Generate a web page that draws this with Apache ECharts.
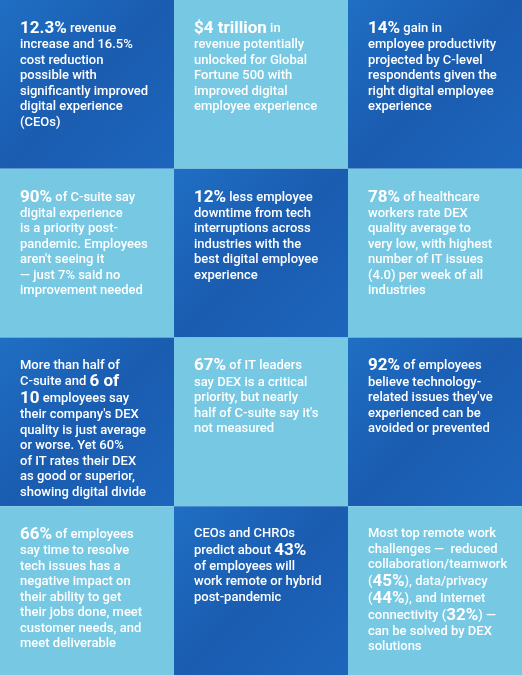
<!DOCTYPE html>
<html>
<head>
<meta charset="utf-8"/>
<title>DEX stats</title>
<script src="https://cdn.jsdelivr.net/npm/echarts@6/dist/echarts.min.js"></script>
<style>
  html,body{margin:0;padding:0;background:#fff;}
  #chart{width:522px;height:675px;}
</style>
</head>
<body>
<div id="chart"></div>
<script>
// columns / rows of the tile grid
var cols = ['c1', 'c2', 'c3'];
var rows = ['r1', 'r2', 'r3', 'r4'];
// tile tone: 0 = dark blue, 1 = light blue
var tones = [
  [0, 1, 0],
  [1, 0, 1],
  [0, 1, 0],
  [1, 0, 1]
];
var texts = [
  ["{b|12.3%} revenue\nincrease and 16.5%\ncost reduction\npossible with\nsignificantly improved\ndigital experience\n(CEOs)",
   "{b|$4 trillion} in\nrevenue potentially\nunlocked for Global\nFortune 500 with\nimproved digital\nemployee experience",
   "{b|14%} gain in\nemployee productivity\nprojected by C-level\nrespondents given the\nright digital employee\nexperience"],
  ["{b|90%} of C-suite say\ndigital experience\nis a priority post-\npandemic. Employees\naren't seeing it\n— just 7% said no\nimprovement needed",
   "{b|12%} less employee\ndowntime from tech\ninterruptions across\nindustries with the\nbest digital employee\nexperience",
   "{b|78%} of healthcare\nworkers rate DEX\nquality average to\nvery low, with highest\nnumber of IT issues\n(4.0) per week of all\nindustries"],
  ["More than half of\nC-suite and {b|6 of}\n{b|10} employees say\ntheir company's DEX\nquality is just average\nor worse. Yet 60%\nof IT rates their DEX\nas good or superior,\nshowing digital divide",
   "{b|67%} of IT leaders\nsay DEX is a critical\npriority, but nearly\nhalf of C-suite say it's\nnot measured",
   "{b|92%} of employees\nbelieve technology-\nrelated issues they've\nexperienced can be\navoided or prevented"],
  ["{b|66%} of employees\nsay time to resolve\ntech issues has a\nnegative impact on\ntheir ability to get\ntheir jobs done, meet\ncustomer needs, and\nmeet deliverable",
   "CEOs and CHROs\npredict about {b|43%}\nof employees will\nwork remote or hybrid\npost-pandemic",
   "Most top remote work\nchallenges —  reduced\ncollaboration/teamwork\n({b|45%}), data/privacy\n({b|44%}), and Internet\nconnectivity ({b|32%}) —\ncan be solved by DEX\nsolutions"]
];

var data = [];
for (var r = 0; r < rows.length; r++) {
  for (var c = 0; c < cols.length; c++) {
    data.push([c, r, tones[r][c], texts[r][c]]);
  }
}

var chart = echarts.init(document.getElementById('chart'));

function renderItem(params, api) {
  var p = api.coord([api.value(0), api.value(1)]);
  var s = api.size([1, 1]);
  var x = p[0] - s[0] / 2, y = p[1] - s[1] / 2;
  var dark = api.value(2) === 0;
  var fill = dark ? new echarts.graphic.LinearGradient(0, 0, 1, 1, [
      {offset: 0, color: '#1f6fc4'}, {offset: 0.5, color: '#1a5cb0'}, {offset: 1, color: '#1d66bd'}
    ]) : '#76c8e3';
  return {
    type: 'group',
    children: [
      {type: 'rect', shape: {x: x, y: y, width: s[0], height: s[1]}, style: {fill: fill}},
      {type: 'text', x: x + 20, y: y + 20, style: {
        text: data[params.dataIndex][3],
        fill: '#ffffff',
        font: '500 13px Roboto',
        lineHeight: 15.5,
        rich: {b: {fontSize: 17, fontWeight: 'bold', fill: '#ffffff', lineHeight: 17, fontFamily: 'Roboto'}}
      }}
    ]
  };
}

chart.setOption({
  animation: false,
  grid: {left: 0, right: 0, top: 0, bottom: 0},
  xAxis: {type: 'category', data: cols, show: false},
  yAxis: {type: 'category', data: rows, inverse: true, show: false},
  series: [{type: 'custom', renderItem: renderItem, data: data}]
});
</script>
</body>
</html>
